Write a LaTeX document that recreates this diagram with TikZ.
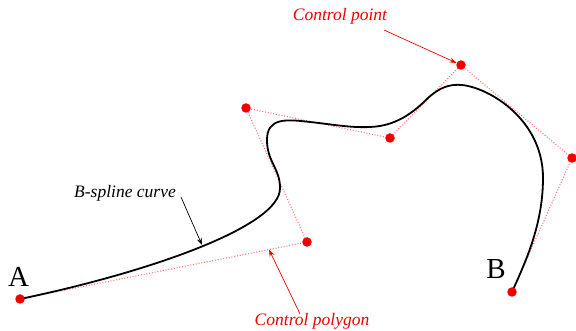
\documentclass[tikz,border=0pt]{standalone}
\usepackage{fontspec}
\setmainfont{Liberation Serif}
\usetikzlibrary{arrows.meta,calc}
\definecolor{ptred}{RGB}{240,0,0}
\tikzset{
  ctrldot/.style={circle,fill=ptred,inner sep=0pt,minimum size=9.5pt},
  polyline/.style={draw=ptred,opacity=0.55,line width=1.1pt,dash pattern=on 1pt off 1.8pt},
  splineline/.style={draw=black,line width=1.8pt,line join=round},
  lbl/.style={font=\itshape\fontsize{17.5}{20}\selectfont,inner sep=1pt},
  endlbl/.style={font=\fontsize{29}{32}\selectfont,inner sep=0pt},
  pointer/.style={-{Stealth[length=7pt,width=5pt,inset=2.5pt]},line width=0.7pt}
}
\begin{document}
\begin{tikzpicture}[x=1pt,y=-1pt]
\useasboundingbox (0,0) rectangle (576,331);
% control points
\coordinate (c0) at (20,299);
\coordinate (c1) at (307,242);
\coordinate (c2) at (246,108);
\coordinate (c3) at (390,138);
\coordinate (c4) at (461,65);
\coordinate (c5) at (572,158);
\coordinate (c6) at (512,292);
% control polygon
\draw[polyline] (c0) -- (c1) -- (c2) -- (c3) -- (c4) -- (c5) -- (c6);
% the spline itself, as a chain of cubic pieces
\draw[splineline] (c0)
  .. controls (150,272) and (281,226) .. (280,188)
  .. controls (280,168) and (267,162) .. (267,140)
  .. controls (267,118) and (285,119) .. (310,122)
  .. controls (330,124) and (350,128) .. (370,127)
  .. controls (395,126) and (412,114) .. (428,98)
  .. controls (440,87) and (450,84) .. (462,85)
  .. controls (490,88) and (543,120) .. (543,178)
  .. controls (543,225) and (525,263) .. (c6);
% control point markers
\foreach \i in {0,...,6} \node[ctrldot] (p\i) at (c\i) {};
% end labels
\node[endlbl] (lA) at (18.5,277) {A};
\node[endlbl] (lB) at (496,269) {B};
% annotations
\node[lbl,text=ptred] (lcp) at (340,16) {Control point};
\draw[pointer,ptred] ([xshift=-4pt,yshift=-5pt]lcp.south east) -- (p4);
\node[lbl] (lbs) at (125,193) {B-spline curve};
\coordinate (oncurve) at (202,245);
\draw[pointer] ([xshift=4pt,yshift=-4pt]lbs.east) -- (oncurve);
\node[lbl,text=ptred] (lpoly) at (312,321) {Control polygon};
\coordinate (onpoly) at ($(c0)!0.8676!(c1)$);
\draw[pointer,ptred] ([xshift=-12pt,yshift=-2pt]lpoly.north) -- (onpoly);
\end{tikzpicture}
\end{document}
